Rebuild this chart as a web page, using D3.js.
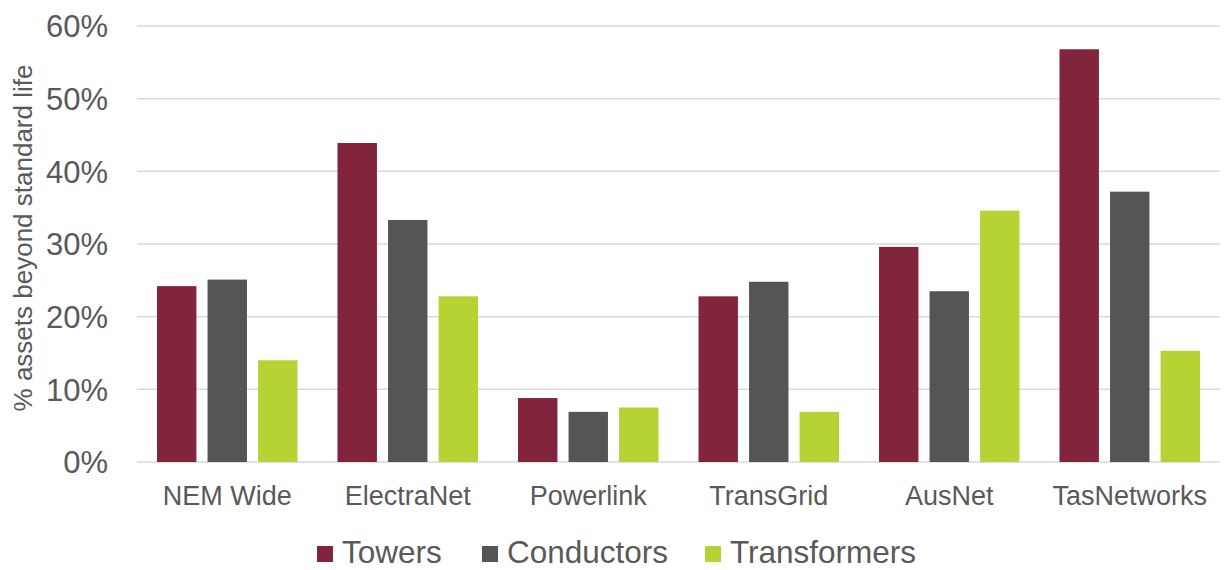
<!DOCTYPE html>
<html>
<head>
<meta charset="utf-8">
<script src="https://cdn.jsdelivr.net/npm/d3@7"></script>
<style>
  body { margin: 0; background: #fff; }
  text { font-family: "Liberation Sans", Arial, sans-serif; fill: #595959; }
</style>
</head>
<body>
<div id="wrapper"></div>
<script>
// Data
const categories = ['NEM Wide', 'ElectraNet', 'Powerlink', 'TransGrid', 'AusNet', 'TasNetworks']
const seriesNames = ['Towers', 'Conductors', 'Transformers']
const towers = [24.2, 43.9, 8.8, 22.8, 29.6, 56.8]
const conductors = [25.1, 33.3, 6.9, 24.8, 23.5, 37.2]
const transformers = [14.0, 22.8, 7.5, 6.9, 34.6, 15.3]
const yTicks = [0, 10, 20, 30, 40, 50, 60]
const colors = ['#82243b', '#555555', '#b5d334']

const seriesValues = [towers, conductors, transformers]

function drawChart() {
    const dimensions = {
        width: 1224,
        height: 570,
        margin: { top: 26, right: 4, bottom: 108, left: 137 },
    }
    dimensions.boundedWidth = dimensions.width - dimensions.margin.left - dimensions.margin.right
    dimensions.boundedHeight = dimensions.height - dimensions.margin.top - dimensions.margin.bottom

    const svg = d3.select('#wrapper')
        .append('svg')
            .attr('width', dimensions.width)
            .attr('height', dimensions.height)

    const bounds = svg.append('g')
        .attr('transform', `translate(${dimensions.margin.left},${dimensions.margin.top})`)

    // Scales
    const xScale = d3.scaleBand()
        .domain(categories)
        .range([0, dimensions.boundedWidth])
        .paddingInner(0)
        .paddingOuter(0)

    const groupPad = 20
    const xInner = d3.scaleBand()
        .domain(seriesNames)
        .range([groupPad, xScale.bandwidth() - groupPad])
        .paddingInner(0.22)

    const yScale = d3.scaleLinear()
        .domain([0, 60])
        .range([dimensions.boundedHeight, 0])

    // Gridlines
    bounds.append('g')
        .selectAll('line')
        .data(yTicks)
        .join('line')
            .attr('x1', 0)
            .attr('x2', dimensions.boundedWidth)
            .attr('y1', d => yScale(d))
            .attr('y2', d => yScale(d))
            .attr('stroke', '#d9d9d9')
            .attr('stroke-width', 1.5)

    // Bars
    const groups = bounds.selectAll('.group')
        .data(categories)
        .join('g')
            .attr('class', 'group')
            .attr('transform', d => `translate(${xScale(d)},0)`)

    groups.selectAll('rect')
        .data((d, i) => seriesNames.map((s, j) => ({ series: s, value: seriesValues[j][i], color: colors[j] })))
        .join('rect')
            .attr('x', d => xInner(d.series))
            .attr('width', xInner.bandwidth())
            .attr('y', d => yScale(d.value))
            .attr('height', d => dimensions.boundedHeight - yScale(d.value))
            .attr('fill', d => d.color)

    // Y axis
    const yAxis = bounds.append('g')
        .call(d3.axisLeft(yScale).tickValues(yTicks).tickFormat(d => d + '%').tickSize(0).tickPadding(29))
    yAxis.select('.domain').remove()
    yAxis.selectAll('text')
        .style('font-size', '31px')
        .style('fill', '#595959')
        .attr('dy', '0.35em')

    // X axis
    const xAxis = bounds.append('g')
        .attr('transform', `translate(0,${dimensions.boundedHeight})`)
        .call(d3.axisBottom(xScale).tickSize(0).tickPadding(24))
    xAxis.select('.domain').remove()
    xAxis.selectAll('text')
        .style('font-size', '27px')
        .style('fill', '#595959')

    // Y axis title
    svg.append('text')
        .attr('transform', 'translate(32,238) rotate(-90)')
        .attr('text-anchor', 'middle')
        .style('font-size', '26px')
        .text('% assets beyond standard life')

    // Legend
    const legendX = [317, 482, 705]
    const legend = svg.append('g')
    seriesNames.forEach((name, i) => {
        legend.append('rect')
            .attr('x', legendX[i])
            .attr('y', 546)
            .attr('width', 16)
            .attr('height', 16)
            .attr('fill', colors[i])
        legend.append('text')
            .attr('x', legendX[i] + 25)
            .attr('y', 563)
            .style('font-size', '31.5px')
            .text(name)
    })
}
drawChart()
</script>
</body>
</html>
